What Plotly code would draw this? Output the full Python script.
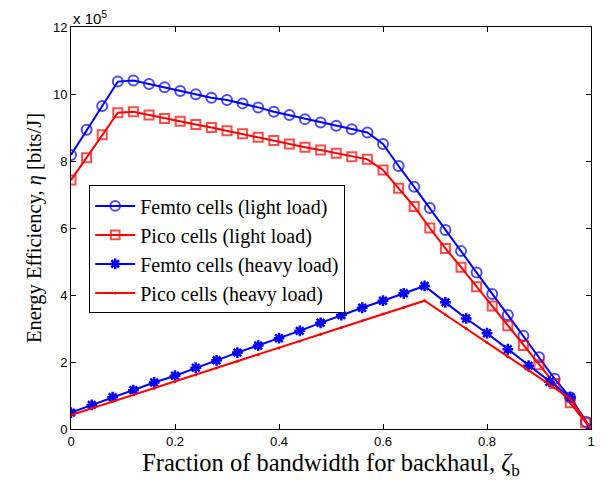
import numpy as np
import plotly.graph_objects as go

# x grids
x_light = [round(0.03 * i, 2) for i in range(34)] + [1.0]
x_heavy = [round(0.04 * i, 2) for i in range(26)]

# values in units of 1e5 bits/J
femto_light = [8.18, 8.93, 9.64, 10.37, 10.40, 10.30, 10.20, 10.09, 9.99, 9.89,
               9.82, 9.72, 9.60, 9.47, 9.37, 9.25, 9.15, 9.05, 8.95, 8.85,
               8.51, 7.85, 7.23, 6.60, 5.94, 5.31, 4.67, 4.03, 3.40, 2.78,
               2.14, 1.50, 0.94, 0.22, 0.0]
pico_light = [7.43, 8.10, 8.78, 9.44, 9.47, 9.37, 9.27, 9.19, 9.09, 9.00,
              8.90, 8.81, 8.71, 8.61, 8.51, 8.41, 8.33, 8.23, 8.13, 8.05,
              7.73, 7.19, 6.64, 6.00, 5.39, 4.83, 4.25, 3.67, 3.08, 2.49,
              1.92, 1.36, 0.78, 0.19, 0.0]
femto_heavy = [0.49, 0.72, 0.95, 1.16, 1.39, 1.59, 1.83, 2.05, 2.28, 2.49,
               2.71, 2.93, 3.17, 3.40, 3.62, 3.83, 4.05, 4.27, 3.78, 3.30,
               2.86, 2.38, 1.89, 1.41, 0.95, 0.0]
pico_heavy = [0.42, 0.62, 0.82, 1.02, 1.22, 1.42, 1.62, 1.82, 2.02, 2.22,
              2.42, 2.62, 2.83, 3.03, 3.23, 3.43, 3.63, 3.83, 3.41, 3.00,
              2.58, 2.16, 1.75, 1.33, 0.90, 0.0]

names = ["Femto cells (light load)", "Pico cells (light load)",
         "Femto cells (heavy load)", "Pico cells (heavy load)"]
x_ticks = [0, 0.2, 0.4, 0.6, 0.8, 1]
x_tick_labels = ["0", "0.2", "0.4", "0.6", "0.8", "1"]
y_ticks = [0, 2, 4, 6, 8, 10, 12]

BLUE = "#0000FF"
RED = "#FF0000"

light_sizes = [9] * (len(x_light) - 1) + [0]

fig = go.Figure()
fig.add_trace(go.Scatter(x=x_light, y=femto_light, name=names[0], mode="lines+markers",
                         line=dict(color=BLUE, width=2),
                         marker=dict(symbol="circle-open", size=[10] * (len(x_light) - 1) + [0],
                                     color=BLUE, line=dict(width=2, color=BLUE))))
fig.add_trace(go.Scatter(x=x_light, y=pico_light, name=names[1], mode="lines+markers",
                         line=dict(color=RED, width=2),
                         marker=dict(symbol="square-open", size=light_sizes,
                                     color=RED, line=dict(width=2, color=RED))))
fig.add_trace(go.Scatter(x=x_heavy, y=femto_heavy, name=names[2], mode="lines+markers",
                         line=dict(color=BLUE, width=2),
                         marker=dict(symbol="asterisk-open", size=9,
                                     color=BLUE, line=dict(width=2.5, color=BLUE))))
fig.add_trace(go.Scatter(x=x_heavy, y=pico_heavy, name=names[3], mode="lines+markers",
                         line=dict(color=RED, width=2),
                         marker=dict(symbol="circle", size=3, color=RED)))

serif = "Liberation Serif, Times New Roman, serif"
sans = "Liberation Sans, Arial, sans-serif"

fig.update_layout(
    width=608, height=483,
    margin=dict(l=71, r=17, t=27, b=54),
    paper_bgcolor="white", plot_bgcolor="white",
    showlegend=True,
    legend=dict(x=0.035, y=0.606, xanchor="left", yanchor="top",
                bgcolor="white", bordercolor="black", borderwidth=1,
                font=dict(family=serif, size=20, color="black"),
                tracegroupgap=0, itemwidth=40),
    xaxis=dict(range=[0, 1], tickvals=x_ticks, ticktext=x_tick_labels,
               ticks="inside", ticklen=5, tickcolor="black",
               showline=True, linecolor="black", linewidth=1, mirror="ticks",
               showgrid=False, zeroline=False,
               tickfont=dict(family=sans, size=13, color="black"),
               title=dict(text="Fraction of bandwidth for backhaul, <i>ζ</i><sub>b</sub>",
                          font=dict(family=serif, size=24.5, color="black"), standoff=0)),
    yaxis=dict(range=[0, 12], tickvals=y_ticks,
               ticks="inside", ticklen=5, tickcolor="black",
               showline=True, linecolor="black", linewidth=1, mirror="ticks",
               showgrid=False, zeroline=False,
               tickfont=dict(family=sans, size=13, color="black"),
               title=dict(text="Energy Efficiency, <i>η</i> [bits/J]",
                          font=dict(family=serif, size=20.5, color="black"), standoff=5)),
    annotations=[dict(xref="paper", yref="paper", x=0, y=1, xanchor="left", yanchor="bottom",
                      text="x 10<sup>5</sup>", showarrow=False,
                      font=dict(family=sans, size=15, color="black"), yshift=-2)],
)

fig.write_html("out.html")
